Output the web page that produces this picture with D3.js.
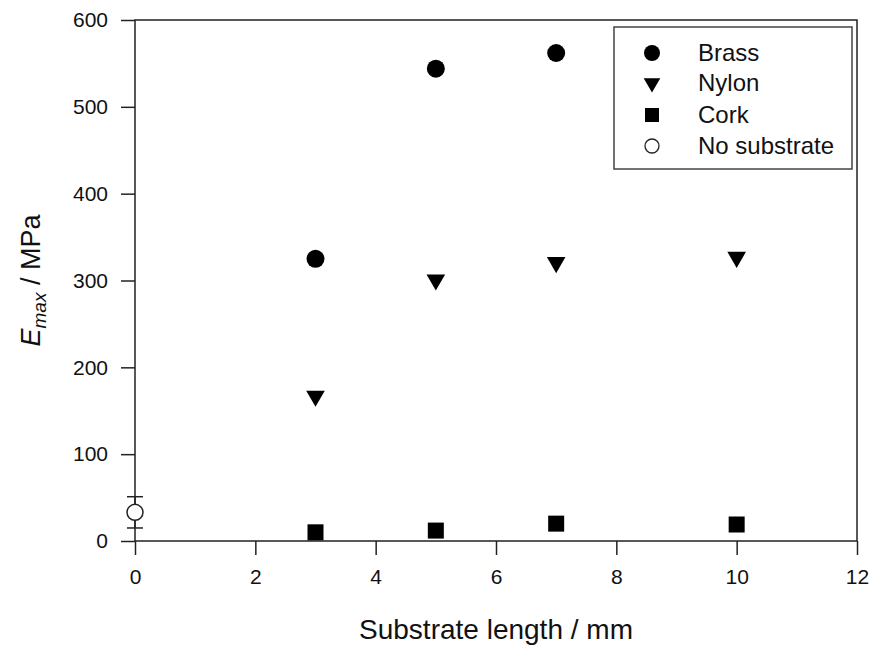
<!DOCTYPE html>
<html>
<head>
<meta charset="utf-8">
<script src="https://cdn.jsdelivr.net/npm/d3@7"></script>
<style>
  body { margin: 0; background: #fff; }
  svg { font-family: "Liberation Sans", Arial, sans-serif; }
</style>
</head>
<body>
<div id="chart"></div>
<script>
// data
const brassX = [3, 5, 7];
const brassY = [325, 544, 562];
const nylonX = [3, 5, 7, 10];
const nylonY = [168, 302, 322, 328];
const corkX = [3, 5, 7, 10];
const corkY = [10, 12, 20, 19];
const noSubX = [0];
const noSubY = [33];
const noSubErr = [18];
const xTicks = [0, 2, 4, 6, 8, 10, 12];
const yTicks = [0, 100, 200, 300, 400, 500, 600];
const legendLabels = ['Brass', 'Nylon', 'Cork', 'No substrate'];

const width = 877, height = 651;
const mLeft = 135, mRight = 857, mTop = 20, mBottom = 541;

const svg = d3.select('#chart').append('svg')
    .attr('width', width)
    .attr('height', height);

const x = d3.scaleLinear().domain([0, 12]).range([mLeft, mRight]);
const y = d3.scaleLinear().domain([0, 600]).range([mBottom, mTop]);

// frame
svg.append('rect')
   .attr('x', mLeft).attr('y', mTop)
   .attr('width', mRight - mLeft).attr('height', mBottom - mTop)
   .attr('fill', 'none').attr('stroke', '#222').attr('stroke-width', 1.5);

// axes
const xAxis = svg.append('g')
   .attr('transform', `translate(0,${mBottom})`)
   .call(d3.axisBottom(x).tickValues(xTicks).tickSize(14).tickSizeOuter(0).tickPadding(12));
const yAxis = svg.append('g')
   .attr('transform', `translate(${mLeft},0)`)
   .call(d3.axisLeft(y).tickValues(yTicks).tickSize(14).tickSizeOuter(0).tickPadding(13));

[xAxis, yAxis].forEach(a => {
  a.attr('font-size', null);
  a.select('.domain').remove();
  a.selectAll('.tick line').attr('stroke', '#222').attr('stroke-width', 1.5);
  a.selectAll('.tick text').style('font-size', '21px').attr('fill', '#111')
   .attr('font-family', '"Liberation Sans", Arial, sans-serif');
});
xAxis.selectAll('.tick text').attr('dy', '0.8em');

// axis titles
svg.append('text')
   .attr('x', 496)
   .attr('y', 639)
   .attr('text-anchor', 'middle')
   .style('font-size', '28px')
   .attr('fill', '#111')
   .text('Substrate length / mm');

const yl = svg.append('text')
   .attr('transform', `translate(40,${(mTop + mBottom) / 2}) rotate(-90)`)
   .attr('text-anchor', 'middle')
   .style('font-size', '27px')
   .attr('fill', '#111');
yl.append('tspan').attr('font-style', 'italic').text('E');
yl.append('tspan').attr('font-style', 'italic').style('font-size', '19px').attr('dy', '6').text('max');
yl.append('tspan').attr('dy', '-6').text(' / MPa');

// symbols
const tri = d3.symbol().type(d3.symbolTriangle).size(150);
function drawPoints(xs, ys, kind) {
  const g = svg.append('g');
  const pts = xs.map((v, i) => [v, ys[i]]);
  if (kind === 'circle') {
    g.selectAll('circle').data(pts).enter().append('circle')
     .attr('cx', d => x(d[0])).attr('cy', d => y(d[1])).attr('r', 9)
     .attr('fill', '#000');
  } else if (kind === 'tri') {
    g.selectAll('path').data(pts).enter().append('path')
     .attr('d', tri)
     .attr('transform', d => `translate(${x(d[0])},${y(d[1]) + 1}) rotate(180)`)
     .attr('fill', '#000');
  } else if (kind === 'square') {
    g.selectAll('rect').data(pts).enter().append('rect')
     .attr('x', d => x(d[0]) - 8).attr('y', d => y(d[1]) - 8)
     .attr('width', 16).attr('height', 16).attr('fill', '#000');
  }
}
drawPoints(brassX, brassY, 'circle');
drawPoints(nylonX, nylonY, 'tri');
drawPoints(corkX, corkY, 'square');

// no substrate with error bar
const ns = svg.append('g');
noSubX.forEach((v, i) => {
  const cx = x(v), cy = y(noSubY[i]);
  const y1 = y(noSubY[i] + noSubErr[i]), y2 = y(noSubY[i] - noSubErr[i]);
  ns.append('line').attr('x1', cx).attr('x2', cx).attr('y1', y1).attr('y2', y2)
    .attr('stroke', '#222').attr('stroke-width', 1.5);
  [y1, y2].forEach(yy => ns.append('line')
    .attr('x1', cx - 8).attr('x2', cx + 8).attr('y1', yy).attr('y2', yy)
    .attr('stroke', '#222').attr('stroke-width', 1.5));
  ns.append('circle').attr('cx', cx).attr('cy', cy).attr('r', 8)
    .attr('fill', '#fff').attr('stroke', '#222').attr('stroke-width', 1.5);
});

// legend
const lg = svg.append('g');
lg.append('rect')
  .attr('x', 614).attr('y', 27).attr('width', 238).attr('height', 142)
  .attr('fill', '#fff').attr('stroke', '#444').attr('stroke-width', 1.5);
const rows = [53, 83, 115, 146];
legendLabels.forEach((t, i) => {
  const cy = rows[i], cx = 652;
  if (i === 0) lg.append('circle').attr('cx', cx).attr('cy', cy).attr('r', 8).attr('fill', '#000');
  if (i === 1) lg.append('path').attr('d', d3.symbol().type(d3.symbolTriangle).size(120))
      .attr('transform', `translate(${cx},${cy}) rotate(180)`).attr('fill', '#000');
  if (i === 2) lg.append('rect').attr('x', cx - 7).attr('y', cy - 7).attr('width', 14).attr('height', 14).attr('fill', '#000');
  if (i === 3) lg.append('circle').attr('cx', cx).attr('cy', cy).attr('r', 7)
      .attr('fill', '#fff').attr('stroke', '#222').attr('stroke-width', 1.3);
  lg.append('text').attr('x', 698).attr('y', cy + 8)
    .style('font-size', '24px').attr('fill', '#111').text(t);
});
</script>
</body>
</html>
